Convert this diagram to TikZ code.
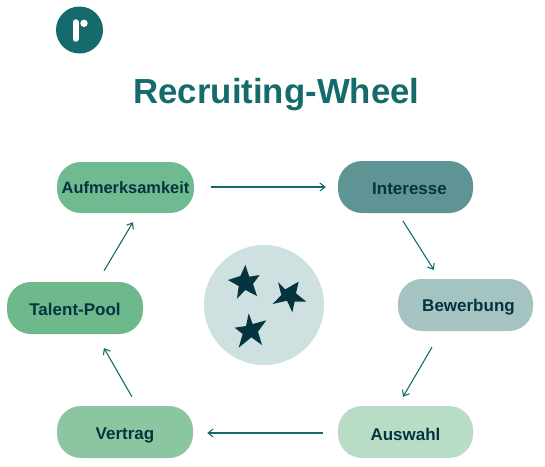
\documentclass[tikz,border=0pt]{standalone}
\usepackage{fontspec}
\setmainfont{Liberation Sans}
\usetikzlibrary{arrows.meta}
\definecolor{tealdark}{HTML}{156B6B}
\definecolor{ink}{HTML}{04343F}
\definecolor{cAuf}{HTML}{6FBB8F}
\definecolor{cInt}{HTML}{5E9594}
\definecolor{cBew}{HTML}{A4C3C1}
\definecolor{cAus}{HTML}{B8DCC6}
\definecolor{cVer}{HTML}{8AC6A0}
\definecolor{cTal}{HTML}{6DB98B}
\definecolor{cCirc}{HTML}{CFE0E0}
\newcommand{\lowered}[2]{\raisebox{-#1pt}[0pt][0pt]{#2}}
\tikzset{
  pill/.style={rounded corners=24pt,minimum width=136pt,minimum height=52pt,inner sep=0pt,font=\fontsize{17}{20}\selectfont\bfseries,text=ink},
  conn/.style={draw=tealdark,line width=1.1pt,-{Straight Barb[length=5pt,width=8pt,line width=1.1pt]}},
  starshape/.style={fill=ink,draw=none}
}
\begin{document}
\begin{tikzpicture}[x=1pt,y=-1pt]
\useasboundingbox (0,0) rectangle (545,466);
% logo
\fill[tealdark] (79.5,30) circle[radius=23.5];
\draw[white,line width=6.5pt,line cap=round] (75.8,22.5) -- (75.8,38.5);
\fill[white] (84,23.3) circle[radius=3.7];
% title
\node[font=\fontsize{34.8}{40}\selectfont\bfseries,text=tealdark] (title) at (276.5,95) {Recruiting-Wheel};
% boxes
\node[pill,fill=cAuf,minimum width=137pt,minimum height=51pt,font=\fontsize{16.4}{20}\selectfont\bfseries] (auf) at (125.5,187.5) {\lowered{5.5}{Aufmerksamkeit}};
\node[pill,fill=cInt,minimum width=135pt] (int) at (405.5,187) {\hspace*{8pt}\lowered{7}{Interesse}};
\node[pill,fill=cBew,minimum width=135pt] (bew) at (465.5,305) {\hspace*{6pt}\lowered{6}{Bewerbung}};
\node[pill,fill=cAus,minimum width=135pt] (aus) at (405.5,432) {\lowered{8}{Auswahl}};
\node[pill,fill=cVer] (ver) at (125,432) {\lowered{7}{Vertrag}};
\node[pill,fill=cTal] (tal) at (75,308) {\lowered{7}{Talent-Pool}};
% connectors
\draw[conn,shorten <=17pt,shorten >=12pt] ([yshift=0.5pt]auf.east) -- (int.west);
\draw[conn,shorten <=9pt,shorten >=10.5pt] ([xshift=-7.5pt]int.south) -- ([xshift=-26pt]bew.north);
\draw[conn,shorten <=18.5pt,shorten >=10.4pt] ([xshift=-24.2pt]bew.south) -- ([xshift=-7.7pt]aus.north);
\draw[conn,shorten <=15pt,shorten >=14pt] ([yshift=-1pt]aus.west) -- ([yshift=-1pt]ver.east);
\draw[conn,shorten <=10.4pt,shorten >=16pt] ([xshift=12.1pt]ver.north) -- ([xshift=21pt]tal.south);
\draw[conn,shorten <=12.8pt,shorten >=10.5pt] ([xshift=22.5pt]tal.north) -- ([xshift=12.8pt]auf.south);
% centre circle and stars
\fill[cCirc] (264,305) circle[radius=60];
\begin{scope}[shift={(222,260)},x=0.3333pt,y=-0.3333pt]
\fill[starshape] (70,15)--(82,50)--(113,45)--(93,72)--(105,108)--(70,90)--(45,116)--(50,78)--(18,60)--(55,48)--cycle;
\fill[starshape] (168,66)--(190,88)--(230,65)--(222,100)--(253,125)--(218,125)--(211,157)--(195,122)--(152,132)--(178,105)--cycle;
\fill[starshape] (80,160)--(92,192)--(133,181)--(108,215)--(120,255)--(88,232)--(50,263)--(62,222)--(38,203)--(72,198)--cycle;
\end{scope}
\end{tikzpicture}
\end{document}
